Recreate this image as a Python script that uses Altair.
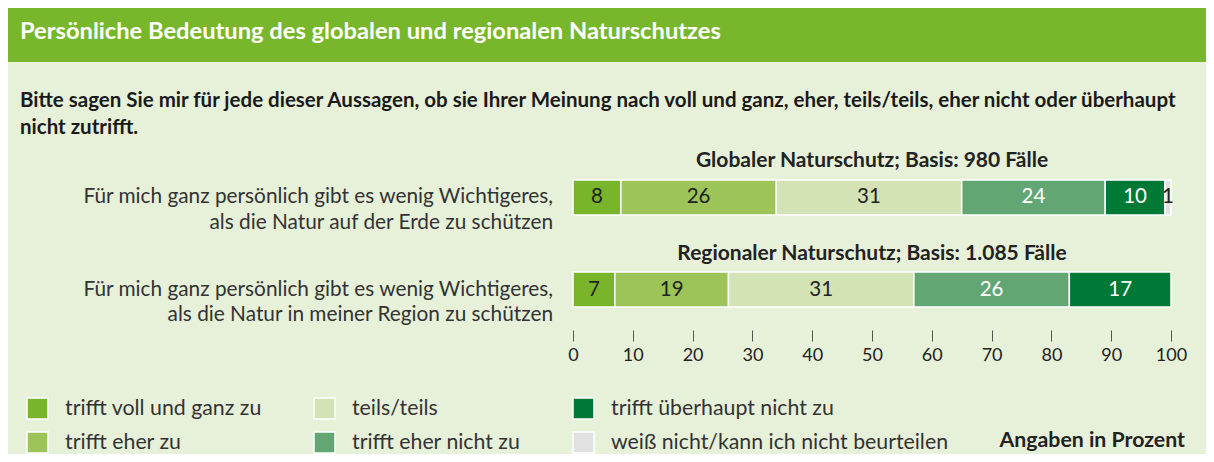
import altair as alt
import pandas as pd

# ---------------- data ----------------
title = "Persönliche Bedeutung des globalen und regionalen Naturschutzes"
subtitle = [
    "Bitte sagen Sie mir für jede dieser Aussagen, ob sie Ihrer Meinung nach voll und ganz, eher, teils/teils, eher nicht oder überhaupt",
    "nicht zutrifft.",
]
items = ["Global", "Regional"]
item_labels = [
    "Für mich ganz persönlich gibt es wenig Wichtigeres,\nals die Natur auf der Erde zu schützen",
    "Für mich ganz persönlich gibt es wenig Wichtigeres,\nals die Natur in meiner Region zu schützen",
]
bar_titles = [
    "Globaler Naturschutz; Basis: 980 Fälle",
    "Regionaler Naturschutz; Basis: 1.085 Fälle",
]
categories = [
    "trifft voll und ganz zu",
    "trifft eher zu",
    "teils/teils",
    "trifft eher nicht zu",
    "trifft überhaupt nicht zu",
    "weiß nicht/kann ich nicht beurteilen",
]
global_values = [8, 26, 31, 24, 10, 1]
regional_values = [7, 19, 31, 26, 17, 0]
colors = ["#78b52a", "#9cc458", "#d3e3b5", "#62a674", "#007836", "#e1e1e1"]
label_colors = ["#222222", "#222222", "#222222", "#ffffff", "#ffffff", "#222222"]
x_ticks = [0, 10, 20, 30, 40, 50, 60, 70, 80, 90, 100]
note = "Angaben in Prozent"

FONT = "Lato"
W, H = 1198, 446

# ---------------- tables ----------------
rows = []
for item, vals in zip(items, [global_values, regional_values]):
    start = 0
    for cat, v, lc in zip(categories, vals, label_colors):
        if v > 0:
            rows.append({"item": item, "cat": cat, "value": v, "start": start,
                         "end": start + v, "mid": start + v / 2, "lc": lc})
        start += v
bars_df = pd.DataFrame(rows)
labels_df = pd.DataFrame({"item": items, "label": item_labels, "btitle": bar_titles})

x_scale = alt.Scale(domain=[0, 100], range=[565, 1163], nice=False, zero=False)
y_scale = alt.Scale(domain=items, range=[172, 299], paddingInner=0.6196, paddingOuter=0)

x_axis = alt.Axis(values=x_ticks, domain=False, grid=False, tickSize=11, tickColor="#555555",
                  tickWidth=1, labelFont=FONT, labelFontSize=18, labelColor="#222222",
                  labelPadding=5, offset=-124, title=None, labelFlush=False, orient="bottom")

one = alt.Data(values=[{"a": 1}])

header_bar = alt.Chart(one).mark_rect(color="#78b72b").encode(
    x=alt.value(0), x2=alt.value(W), y=alt.value(0), y2=alt.value(54)
)
header_text = alt.Chart(one).mark_text(
    text=title, font=FONT, fontSize=23.7, fontWeight="bold", color="white",
    align="left", baseline="middle"
).encode(x=alt.value(12), y=alt.value(24))

sub_text = alt.Chart(one).mark_text(
    text=subtitle, font=FONT, fontSize=20.5, fontWeight="bold", color="#1a1a1a",
    align="left", baseline="middle", lineHeight=27
).encode(x=alt.value(12), y=alt.value(93))

bars = alt.Chart(bars_df).mark_bar(stroke="white", strokeWidth=1.5).encode(
    x=alt.X("start:Q", scale=x_scale, axis=x_axis),
    x2="end:Q",
    y=alt.Y("item:N", scale=y_scale, axis=None),
    color=alt.Color("cat:N", scale=alt.Scale(domain=categories, range=colors),
                    legend=alt.Legend(
                        orient="none", legendX=18, legendY=389, columns=3, title=None,
                        labelFont=FONT, labelFontSize=21.3, labelColor="#333333",
                        symbolType="square", symbolSize=441,
                        symbolStrokeColor="white", symbolStrokeWidth=1.5, symbolOpacity=1,
                        columnPadding=49, rowPadding=7, labelOffset=16, padding=0,
                        labelLimit=500)),
)

values_text = alt.Chart(bars_df).mark_text(font=FONT, fontSize=20.5, baseline="middle").encode(
    x="mid:Q",
    y=alt.Y("item:N"),
    text="value:Q",
    color=alt.Color("lc:N", scale=None),
)

left_labels = alt.Chart(labels_df).mark_text(
    font=FONT, fontSize=20.8, color="#333333", align="right", baseline="middle",
    lineBreak="\n", lineHeight=25.5
).encode(x=alt.value(545), y=alt.Y("item:N"), text="label:N")

bar_title_text = alt.Chart(labels_df).mark_text(
    font=FONT, fontSize=21, fontWeight="bold", color="#222222", align="center",
    baseline="middle", dy=-36
).encode(x=alt.datum(50), y=alt.Y("item:N"), text="btitle:N")

note_text = alt.Chart(one).mark_text(
    text=note, font=FONT, fontSize=21.3, fontWeight="bold", color="#222222",
    align="right", baseline="middle"
).encode(x=alt.value(1177), y=alt.value(433))

chart = alt.layer(
    header_bar, header_text, sub_text, bars, values_text, left_labels, bar_title_text, note_text
).properties(
    width=W, height=H, padding=0,
    autosize=alt.AutoSizeParams(type="none"),
    background="white",
).configure_view(fill="#e7f0d9", stroke=None)

chart.save("out.html", embed_options={"renderer": "svg", "actions": False})
